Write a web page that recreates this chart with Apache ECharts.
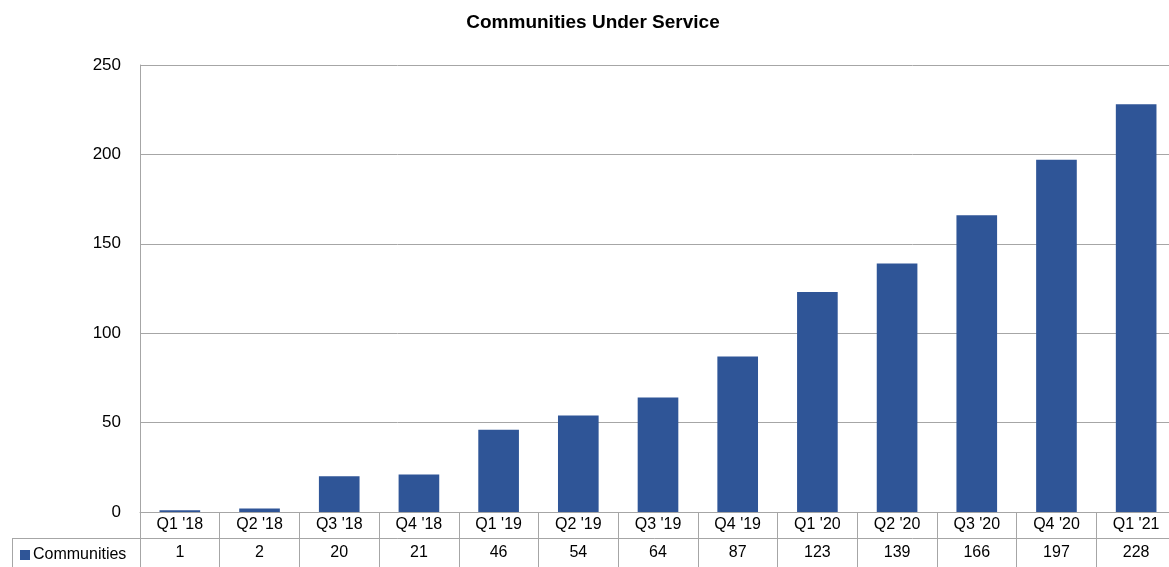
<!DOCTYPE html>
<html>
<head>
<meta charset="utf-8">
<script src="https://cdn.jsdelivr.net/npm/echarts@6/dist/echarts.min.js"></script>
<style>
html, body { margin: 0; padding: 0; background: #fff; }
#chart { width: 1169px; height: 567px; }
</style>
</head>
<body>
<div id="chart"></div>
<script>
// data
var quarters = ["Q1 '18", "Q2 '18", "Q3 '18", "Q4 '18", "Q1 '19", "Q2 '19", "Q3 '19", "Q4 '19", "Q1 '20", "Q2 '20", "Q3 '20", "Q4 '20", "Q1 '21"];
var communities = [1, 2, 20, 21, 46, 54, 64, 87, 123, 139, 166, 197, 228];
var yTicks = [0, 50, 100, 150, 200, 250];

var fontName = 'Liberation Sans';
var lineGray = '#a6a6a6';

var chart = echarts.init(document.getElementById('chart'));
chart.setOption({
    animation: false,
    title: {
        text: 'Communities Under Service',
        left: 588,
        textAlign: 'center',
        top: 8,
        textStyle: { fontFamily: fontName, fontSize: 19, fontWeight: 'bold', color: '#000' }
    },
    legend: {
        data: ['Communities'],
        left: 15,
        top: 542,
        icon: 'rect',
        itemWidth: 10,
        itemHeight: 10,
        itemGap: 5,
        selectedMode: false,
        textStyle: { fontFamily: fontName, fontSize: 16, color: '#000', padding: [0, 0, 0, -2] }
    },
    // plot runs a few pixels past the right edge of the picture
    grid: { left: 140, width: 1036, top: 65, bottom: 55, containLabel: false, outerBoundsMode: 'none' },
    xAxis: [{
        type: 'category',
        data: quarters,
        position: 'bottom',
        axisLine: { show: true, lineStyle: { color: lineGray, width: 1 } },
        axisTick: { show: true, length: 60, lineStyle: { color: lineGray } },
        axisLabel: { margin: 5, fontFamily: fontName, fontSize: 16, color: '#000' }
    }, {
        type: 'category',
        data: communities.map(String),
        position: 'bottom',
        offset: 26,
        axisLine: { show: true, lineStyle: { color: lineGray, width: 1 } },
        axisTick: { show: false },
        axisLabel: { margin: 7, fontFamily: fontName, fontSize: 16, color: '#000' }
    }],
    yAxis: {
        type: 'value',
        min: yTicks[0],
        max: yTicks[yTicks.length - 1],
        interval: 50,
        axisLine: { show: true, lineStyle: { color: lineGray } },
        axisTick: { show: false },
        axisLabel: { margin: 19, fontFamily: fontName, fontSize: 17, color: '#000' },
        splitLine: { show: true, lineStyle: { color: lineGray, width: 1 } }
    },
    series: [{
        name: 'Communities',
        type: 'bar',
        data: communities,
        barWidth: '51%',
        itemStyle: { color: '#2f5597' }
    }],
    graphic: [
        { type: 'line', shape: { x1: 12, y1: 538.5, x2: 140, y2: 538.5 }, style: { stroke: lineGray, lineWidth: 1 } },
        { type: 'line', shape: { x1: 12.5, y1: 538, x2: 12.5, y2: 567 }, style: { stroke: lineGray, lineWidth: 1 } }
    ]
});
</script>
</body>
</html>
